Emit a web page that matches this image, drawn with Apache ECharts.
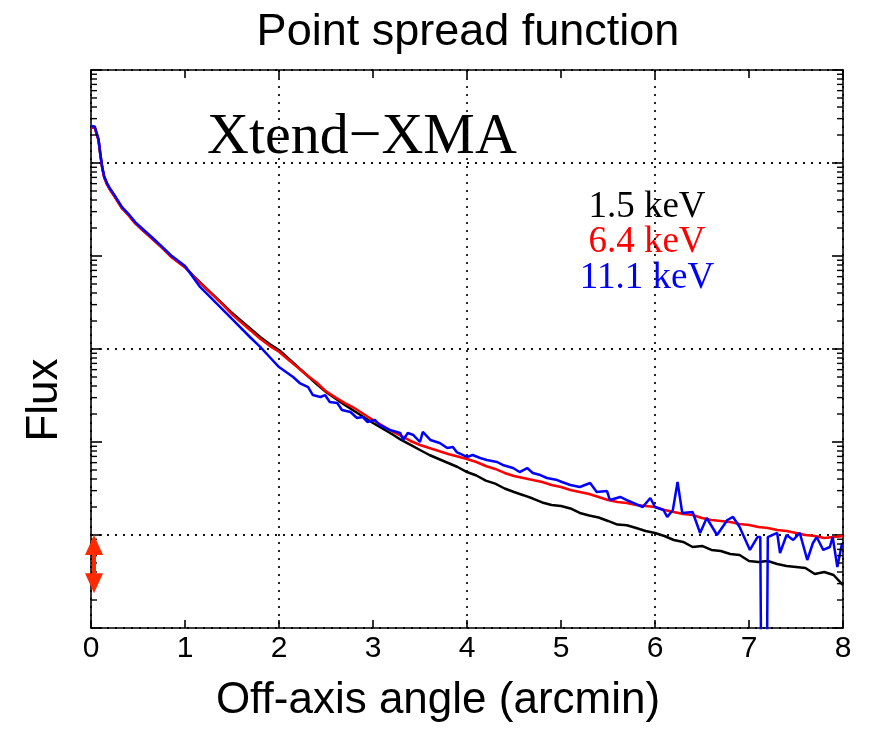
<!DOCTYPE html>
<html>
<head>
<meta charset="utf-8">
<script src="https://cdn.jsdelivr.net/npm/echarts@6/dist/echarts.min.js"></script>
<style>html,body{margin:0;padding:0;background:#fff}#chart{width:872px;height:729px}</style>
</head>
<body>
<div id="chart"></div>
<script>
// ---- data (log10 of flux, arbitrary units) ----
const blackAngle = [0,0.04,0.06,0.08,0.10,0.12,0.14,0.17,0.20,0.25,0.33,0.40,0.47,0.55,0.645,0.75,0.86,1.0,1.1,1.21,1.3,1.4,
  1.5,1.6,1.7,1.8,1.9,2.0,2.1,2.2,2.3,2.4,2.5,2.6,2.7,2.8,2.9,3.0,3.1,3.2,3.3,3.4,3.5,3.6,3.7,3.8,3.9,4.0,
  4.1,4.2,4.3,4.4,4.5,4.6,4.7,4.8,4.9,5.0,5.1,5.2,5.3,5.4,5.5,5.6,5.7,5.8,5.9,6.0,
  6.1,6.2,6.3,6.4,6.5,6.6,6.7,6.8,6.9,7.0,7.1,7.2,7.3,7.4,7.5,7.6,7.7,7.8,7.9,8.0];
const blackLogFlux = [4.387,4.382,4.376,4.247,4.086,3.946,3.849,3.774,3.720,3.645,3.516,3.441,3.355,3.280,3.194,3.097,2.989,2.882,2.774,2.667,2.581,2.484,
  2.387,2.301,2.215,2.129,2.054,1.989,1.898,1.806,1.715,1.624,1.538,1.468,1.398,1.333,1.269,1.204,1.145,1.086,1.022,0.968,0.914,0.860,0.817,0.774,0.731,0.677,
  0.640,0.585,0.552,0.500,0.462,0.428,0.392,0.350,0.323,0.312,0.285,0.237,0.210,0.188,0.151,0.112,0.105,0.075,0.043,0.022,
  -0.011,-0.054,-0.075,-0.129,-0.118,-0.161,-0.172,-0.204,-0.215,-0.280,-0.290,-0.280,-0.312,-0.333,-0.344,-0.355,-0.419,-0.398,-0.430,-0.538];

const redAngle = [0,0.04,0.06,0.08,0.10,0.12,0.14,0.17,0.20,0.25,0.33,0.40,0.47,0.55,0.645,0.75,0.86,1.0,1.1,1.21,1.3,1.4,
  1.5,1.6,1.7,1.8,1.9,2.0,2.1,2.2,2.3,2.4,2.5,2.6,2.7,2.8,2.9,3.0,3.1,3.2,3.3,3.4,3.5,3.6,3.7,3.8,3.9,4.0,
  4.1,4.2,4.3,4.4,4.5,4.6,4.7,4.8,4.9,5.0,5.1,5.2,5.3,5.4,5.5,5.6,5.7,5.8,5.9,6.0,
  6.1,6.2,6.3,6.4,6.5,6.6,6.7,6.8,6.9,7.0,7.1,7.2,7.3,7.4,7.5,7.6,7.7,7.8,7.9,8.0];
const redLogFlux = [4.382,4.377,4.371,4.242,4.081,3.941,3.844,3.769,3.715,3.640,3.511,3.436,3.350,3.275,3.189,3.092,2.984,2.877,2.769,2.662,2.576,2.479,
  2.372,2.284,2.197,2.109,2.034,1.970,1.885,1.800,1.715,1.640,1.545,1.480,1.418,1.366,1.301,1.237,1.177,1.118,1.065,1.011,0.968,0.935,0.903,0.871,0.844,0.817,
  0.785,0.742,0.710,0.667,0.634,0.613,0.591,0.570,0.538,0.516,0.484,0.462,0.441,0.409,0.376,0.355,0.344,0.323,0.312,0.301,
  0.269,0.247,0.226,0.215,0.183,0.161,0.151,0.140,0.118,0.108,0.086,0.075,0.054,0.043,0.022,0.000,-0.011,-0.032,-0.022,-0.011];

const blueAngle = [0,0.04,0.06,0.08,0.10,0.12,0.14,0.17,0.20,0.25,0.33,0.40,0.47,0.55,0.645,0.75,0.86,1.0,
  1.16,1.33,1.51,1.69,1.80,1.90,2.00,2.09,2.15,2.22,2.31,2.36,2.44,2.49,2.54,2.62,2.67,2.76,2.83,2.89,2.94,
  3.02,3.07,3.18,3.29,3.32,3.37,3.43,3.50,3.53,3.61,3.71,3.79,3.85,3.89,
  4.00,4.06,4.14,4.21,4.32,4.38,4.49,4.56,4.64,4.70,4.78,4.85,4.96,
  5.01,5.10,5.20,5.31,5.38,5.49,5.52,5.63,5.70,5.77,5.87,5.95,
  6.00,6.09,6.13,6.19,6.24,6.29,6.40,6.48,6.55,6.66,6.77,6.83,6.90,
  7.01,7.09,7.12,7.14,7.18,7.20,7.30,7.33,7.40,7.47,7.54,7.62,7.68,7.72,7.79,7.86,7.89,7.94,7.99];
const blueLogFlux = [4.397,4.392,4.386,4.257,4.096,3.956,3.859,3.784,3.730,3.655,3.526,3.451,3.365,3.290,3.204,3.107,2.999,2.892,
  2.667,2.495,2.312,2.129,2.022,1.914,1.806,1.742,1.699,1.634,1.591,1.505,1.484,1.505,1.430,1.419,1.344,1.323,1.258,1.269,1.215,
  1.237,1.183,1.129,1.097,1.022,1.097,1.075,1.000,1.108,1.022,0.989,0.935,0.946,0.892,
  0.839,0.860,0.828,0.806,0.785,0.753,0.720,0.677,0.720,0.667,0.645,0.613,0.591,
  0.570,0.538,0.516,0.559,0.462,0.473,0.376,0.409,0.376,0.344,0.301,0.398,
  0.301,0.269,0.194,0.269,0.570,0.237,0.247,0.022,0.183,0.000,0.161,0.194,0.086,
  -0.161,-0.022,-0.022,-3.0,-3.0,-0.022,0.022,-0.194,0.000,-0.054,0.022,-0.269,-0.086,-0.022,-0.161,-0.129,-0.022,-0.344,-0.086];

const energyLabels = ['1.5 keV', '6.4 keV', '11.1 keV'];
const minorMultipliers = [2,3,4,5,6,7,8,9];
const decadeExponents = [-1,0,1,2,3,4];
const arrowAngle = 0.032;
const arrowLogFlux = [0.0, -0.625];   // tips of the red double arrow

// ---- build ----
const toPairs = (xs, ls) => xs.map((x, i) => [x, Math.pow(10, ls[i])]);
const minorTickValues = [];
decadeExponents.forEach(e => minorMultipliers.forEach(m => minorTickValues.push(m * Math.pow(10, e))));

const colors = ['#000000', '#ff0000', '#0000ff'];
const arrowColor = '#ff2a00';
const dotted = { color: '#111', width: 1.8, type: [2, 6] };
const frame = { color: '#000', width: 1.6 };

const chart = echarts.init(document.getElementById('chart'), null, { renderer: 'canvas' });
chart.setOption({
  animation: false,
  backgroundColor: '#fff',
  grid: { left: 91, right: 29, top: 70, bottom: 101, containLabel: false },
  xAxis: [
    { type: 'value', min: 0, max: 8, interval: 1, position: 'bottom',
      axisLine: { show: true, onZero: false, lineStyle: frame },
      axisTick: { show: true, inside: true, length: 8, lineStyle: frame },
      axisLabel: { show: true, margin: 6, color: '#000', fontFamily: 'Liberation Sans', fontSize: 30 },
      splitLine: { show: false } },
    { type: 'value', min: 0, max: 8, interval: 1, position: 'top',
      axisLine: { show: true, onZero: false, lineStyle: frame },
      axisTick: { show: true, inside: true, length: 8, lineStyle: frame },
      axisLabel: { show: false }, splitLine: { show: false } },
    { type: 'value', min: 0, max: 8, interval: 2, position: 'bottom',
      axisLine: { show: false }, axisTick: { show: false }, axisLabel: { show: false },
      splitLine: { show: true, lineStyle: dotted } }
  ],
  yAxis: [
    { type: 'log', logBase: 10, min: 0.1, max: 1e5, position: 'left',
      axisLine: { show: true, onZero: false, lineStyle: frame },
      axisTick: { show: true, inside: true, length: 11, lineStyle: frame },
      axisLabel: { show: false }, splitLine: { show: false } },
    { type: 'log', logBase: 10, min: 0.1, max: 1e5, position: 'right',
      axisLine: { show: true, onZero: false, lineStyle: frame },
      axisTick: { show: true, inside: true, length: 11, lineStyle: frame },
      axisLabel: { show: false }, splitLine: { show: false } },
    { type: 'log', logBase: 100, min: 0.1, max: 1e5, position: 'left',
      axisLine: { show: false }, axisTick: { show: false }, axisLabel: { show: false },
      splitLine: { show: true, lineStyle: dotted } }
  ],
  series: [
    { type: 'custom', name: 'minorTicks', xAxisIndex: 0, yAxisIndex: 0, silent: true, z: 5,
      data: minorTickValues.map(v => [0, v]),
      renderItem: function (params, api) {
        const v = api.value(1);
        const l = api.coord([0, v]);
        const r = api.coord([8, v]);
        return { type: 'group', children: [
          { type: 'line', shape: { x1: l[0], y1: l[1], x2: l[0] + 6, y2: l[1] }, style: { stroke: '#000', lineWidth: 1.4 } },
          { type: 'line', shape: { x1: r[0], y1: r[1], x2: r[0] - 6, y2: r[1] }, style: { stroke: '#000', lineWidth: 1.4 } }
        ] };
      } },
    { type: 'line', name: energyLabels[0], xAxisIndex: 0, yAxisIndex: 0, data: toPairs(blackAngle, blackLogFlux),
      showSymbol: false, smooth: false, clip: true, lineStyle: { color: colors[0], width: 2.5 }, itemStyle: { color: colors[0] }, z: 2 },
    { type: 'line', name: energyLabels[1], xAxisIndex: 0, yAxisIndex: 0, data: toPairs(redAngle, redLogFlux),
      showSymbol: false, smooth: false, clip: true, lineStyle: { color: colors[1], width: 2.5 }, itemStyle: { color: colors[1] }, z: 3 },
    { type: 'line', name: energyLabels[2], xAxisIndex: 0, yAxisIndex: 0, data: toPairs(blueAngle, blueLogFlux),
      showSymbol: false, smooth: false, clip: true, lineStyle: { color: colors[2], width: 2.5 }, itemStyle: { color: colors[2] }, z: 4 },
    { type: 'custom', name: 'arrow', xAxisIndex: 0, yAxisIndex: 0, silent: true, z: 10, clip: false,
      data: [[arrowAngle, Math.pow(10, arrowLogFlux[0]), Math.pow(10, arrowLogFlux[1])]],
      encode: { x: 0, y: [1, 2] },
      renderItem: function (params, api) {
        const a = api.coord([api.value(0), api.value(1)]);
        const b = api.coord([api.value(0), api.value(2)]);
        const cx = a[0], hw = 9, hh = 20, sw = 4;
        return { type: 'group', children: [
          { type: 'polygon', shape: { points: [[cx, a[1]], [cx - hw, a[1] + hh], [cx + hw, a[1] + hh]] }, style: { fill: arrowColor } },
          { type: 'polygon', shape: { points: [[cx, b[1]], [cx - hw, b[1] - hh], [cx + hw, b[1] - hh]] }, style: { fill: arrowColor } },
          { type: 'rect', shape: { x: cx - sw / 2, y: a[1] + hh - 1, width: sw, height: b[1] - a[1] - 2 * hh + 2 }, style: { fill: arrowColor } }
        ] };
      } }
  ],
  graphic: [
    { type: 'text', x: 468, y: 33, silent: true,
      style: { text: 'Point spread function', font: '45px "Liberation Sans"', fill: '#000', textAlign: 'center', textVerticalAlign: 'middle', align: 'center', verticalAlign: 'middle' } },
    { type: 'text', x: 207, y: 138, silent: true,
      style: { text: 'Xtend\u2212XMA', font: '58px "Liberation Serif"', fill: '#000', textAlign: 'left', textVerticalAlign: 'middle', align: 'left', verticalAlign: 'middle' } },
    { type: 'text', x: 647, y: 207, silent: true,
      style: { text: energyLabels[0], font: '37px "Liberation Serif"', fill: colors[0], textAlign: 'center', textVerticalAlign: 'middle', align: 'center', verticalAlign: 'middle' } },
    { type: 'text', x: 647, y: 242, silent: true,
      style: { text: energyLabels[1], font: '37px "Liberation Serif"', fill: colors[1], textAlign: 'center', textVerticalAlign: 'middle', align: 'center', verticalAlign: 'middle' } },
    { type: 'text', x: 647, y: 278, silent: true,
      style: { text: energyLabels[2], font: '37px "Liberation Serif"', fill: colors[2], textAlign: 'center', textVerticalAlign: 'middle', align: 'center', verticalAlign: 'middle' } },
    { type: 'text', x: 438, y: 701, silent: true,
      style: { text: 'Off-axis angle (arcmin)', font: '44px "Liberation Sans"', fill: '#000', textAlign: 'center', textVerticalAlign: 'middle', align: 'center', verticalAlign: 'middle' } },
    { type: 'text', x: 45, y: 400, rotation: Math.PI / 2, silent: true,
      style: { text: 'Flux', font: '44px "Liberation Sans"', fill: '#000', textAlign: 'center', textVerticalAlign: 'middle', align: 'center', verticalAlign: 'middle' } }
  ]
});
</script>
</body>
</html>
